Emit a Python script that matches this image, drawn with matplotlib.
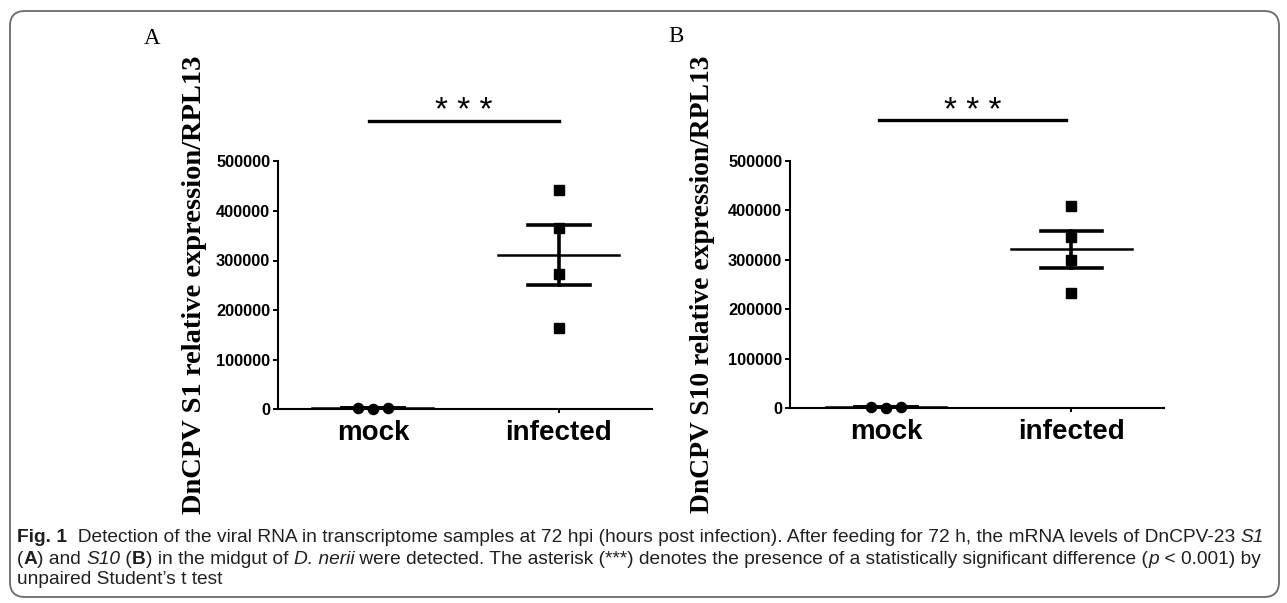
import numpy as np
import matplotlib
matplotlib.use('Agg')
import matplotlib.pyplot as plt
from matplotlib.patches import FancyBboxPatch

# data (relative expression / RPL13)
groups = ['mock', 'infected']
s1_mock = [3000, 1000, 1500]
s1_infected = [442000, 366000, 272000, 164000]
s10_mock = [1800, 1000, 1500]
s10_infected = [408000, 346000, 300000, 232000]
yticks = [0, 100000, 200000, 300000, 400000, 500000]

ylabels = ['DnCPV S1 relative expression/RPL13',
           'DnCPV S10 relative expression/RPL13']
panel_tags = ['A', 'B']

W, H = 1287, 603
fig = plt.figure(figsize=(W / 100, H / 100), dpi=100)

SANS = 'Liberation Sans'
SERIF = 'Liberation Serif'


def px_axes(left, top, right, bottom):
    return fig.add_axes([left / W, (H - bottom) / H, (right - left) / W, (bottom - top) / H])


def draw_panel(ax, mock, infected, ylabel, xlim, bar_span, label_x, label_size):
    mock = np.asarray(mock, float)
    infected = np.asarray(infected, float)
    jit = np.array([-0.08, 0.0, 0.08])
    ax.plot(0 + jit, mock, 'o', color='black', ms=7.3, clip_on=False, zorder=5)
    ax.plot(np.ones(len(infected)), infected, 's', color='black', ms=7.3, clip_on=False, zorder=5)

    for xpos, vals in [(0, mock), (1, infected)]:
        m = vals.mean()
        sem = vals.std(ddof=1) / np.sqrt(len(vals))
        ax.plot([xpos - 0.325, xpos + 0.325], [m, m], color='black', lw=1.8, clip_on=False, zorder=4)
        ax.plot([xpos - 0.167, xpos + 0.167], [m + sem, m + sem], color='black', lw=2.6, clip_on=False, zorder=4)
        ax.plot([xpos - 0.167, xpos + 0.167], [m - sem, m - sem], color='black', lw=2.6, clip_on=False, zorder=4)
        ax.plot([xpos, xpos], [m - sem, m + sem], color='black', lw=2.6, clip_on=False, zorder=4)

    ax.set_xlim(*xlim)
    ax.set_ylim(0, 500000)
    ax.set_yticks(yticks)
    ax.set_yticklabels([str(t) for t in yticks], fontfamily=SANS, fontweight='bold', fontsize=11.8)
    ax.set_xticks([0, 1])
    ax.set_xticklabels(groups, fontfamily=SANS, fontweight='bold', fontsize=20)
    ax.tick_params(axis='y', direction='out', length=3.6, width=1.4, pad=2)
    ax.tick_params(axis='x', direction='out', length=3.2, width=1.4, pad=4.5)
    for s in ['top', 'right']:
        ax.spines[s].set_visible(False)
    for s in ['left', 'bottom']:
        ax.spines[s].set_linewidth(1.5)
    ax.patch.set_alpha(0)

    ax.set_ylabel(ylabel, fontfamily=SERIF, fontweight='bold', fontsize=label_size, va='center')
    ax.yaxis.set_label_coords(label_x, 0.5)

    # significance bar
    ax.plot(bar_span, [582000, 582000], color='black', lw=2.4, clip_on=False)
    ax.text(np.mean(bar_span), 600000, '* * *', ha='center', va='center',
            fontfamily=SANS, fontsize=24, clip_on=False)


axA = px_axes(278, 161.5, 652, 409)
draw_panel(axA, s1_mock, s1_infected, ylabels[0], (-0.51, 1.5), [-0.02, 1.0], -0.222, 20.5)
axB = px_axes(790, 161, 1164, 408)
draw_panel(axB, s10_mock, s10_infected, ylabels[1], (-0.52, 1.5), [-0.04, 0.97], -0.235, 19.9)

fig.text(152 / W, 1 - 38 / H, panel_tags[0], fontfamily=SERIF, fontsize=16.5, ha='center', va='center')
fig.text(676 / W, 1 - 36 / H, panel_tags[1], fontfamily=SERIF, fontsize=16.5, ha='center', va='center')

# rounded frame round the whole figure
frame = FancyBboxPatch((0.10, 0.06), 12.69, 5.86, boxstyle='round,pad=0,rounding_size=0.15',
                       transform=fig.dpi_scale_trans, facecolor='none', edgecolor='#6a6a6a',
                       lw=1.3, zorder=0)
fig.patches.append(frame)

# caption, drawn run by run so bold / italic parts line up
caption = [
    [('Fig. 1', 'bold', 'normal'),
     ('  Detection of the viral RNA in transcriptome samples at 72 hpi (hours post infection). '
      'After feeding for 72 h, the mRNA levels of DnCPV-23 ', 'normal', 'normal'),
     ('S1', 'normal', 'italic')],
    [('(', 'normal', 'normal'), ('A', 'bold', 'normal'), (') and ', 'normal', 'normal'),
     ('S10', 'normal', 'italic'), (' (', 'normal', 'normal'), ('B', 'bold', 'normal'),
     (') in the midgut of ', 'normal', 'normal'), ('D. nerii', 'normal', 'italic'),
     (' were detected. The asterisk (***) denotes the presence of a statistically significant difference (',
      'normal', 'normal'),
     ('p', 'normal', 'italic'), (' < 0.001) by', 'normal', 'normal')],
    [('unpaired Student\u2019s t test', 'normal', 'normal')],
]
line_y = [537, 559, 580]
renderer = fig.canvas.get_renderer()


def draw_caption(size):
    made = []
    widths = []
    for runs, ly in zip(caption, line_y):
        x = 17
        for txt, wt, st in runs:
            t = fig.text(x / W, 1 - ly / H, txt, fontfamily=SANS, fontsize=size,
                         fontweight=wt, fontstyle=st, color='#231f20', ha='left', va='center')
            x += t.get_window_extent(renderer).width
            made.append(t)
        widths.append(x - 17)
    return made, widths


trial, widths = draw_caption(11.5)
for t in trial:
    t.remove()
draw_caption(11.5 * 1251 / widths[0])

fig.savefig('out.png', dpi=100)
